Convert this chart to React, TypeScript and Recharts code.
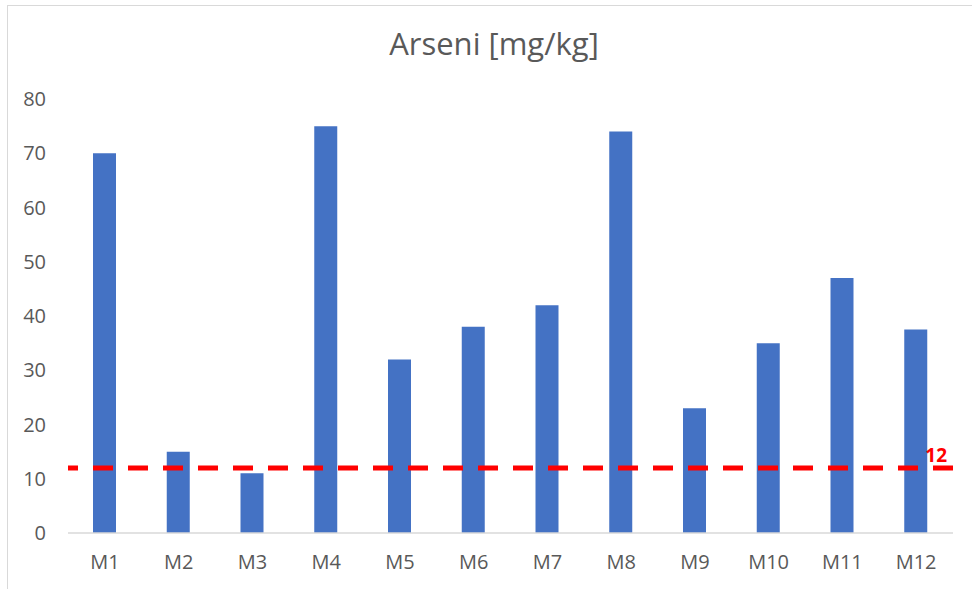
import { BarChart, Bar, XAxis, YAxis, ReferenceLine } from 'recharts';

const sites = ['M1', 'M2', 'M3', 'M4', 'M5', 'M6', 'M7', 'M8', 'M9', 'M10', 'M11', 'M12'];
const arsenic = [70, 15, 11, 75, 32, 38, 42, 74, 23, 35, 47, 37.5];
const yTicks = [0, 10, 20, 30, 40, 50, 60, 70, 80];
const limit = 12;

const font = '"Open Sans", "Noto Sans", sans-serif';
const textGray = '#595959';

export default function App() {
  const data = sites.map((site, i) => ({ site, value: arsenic[i] }));

  return (
    <div
      style={{
        position: 'absolute',
        left: 0,
        top: 0,
        width: 972,
        height: 589,
        background: '#fff',
        fontFamily: font,
      }}
    >
      {/* chart frame, cut off on the right and bottom */}
      <div
        style={{
          position: 'absolute',
          left: 7,
          top: 5,
          right: 0,
          bottom: 0,
          borderLeft: '1px solid #d9d9d9',
          borderTop: '1px solid #d9d9d9',
        }}
      />
      <div
        style={{
          position: 'absolute',
          top: 22,
          left: 0,
          width: 988,
          textAlign: 'center',
          fontSize: 31,
          color: textGray,
        }}
      >
        Arseni [mg/kg]
      </div>
      <BarChart
        width={972}
        height={589}
        data={data}
        margin={{ top: 99, right: 19, bottom: 26, left: 0 }}
        style={{ position: 'absolute', left: 0, top: 0 }}
      >
        <XAxis
          dataKey="site"
          tickLine={false}
          tickSize={0}
          tickMargin={22}
          axisLine={{ stroke: '#d9d9d9', strokeWidth: 1.5 }}
          tick={{ fill: textGray, fontSize: 20, fontFamily: font }}
        />
        <YAxis
          width={68}
          domain={[0, 80]}
          ticks={yTicks}
          interval={0}
          axisLine={false}
          tickLine={false}
          tickSize={0}
          tickMargin={22}
          tick={{ fill: textGray, fontSize: 20, fontFamily: font }}
        />
        <Bar dataKey="value" fill="#4472C4" barSize={23} isAnimationActive={false} />
        <ReferenceLine
          y={limit}
          stroke="#FF0000"
          strokeWidth={5}
          strokeDasharray="20 15"
          strokeDashoffset={10}
          label={{
            value: String(limit),
            position: 'insideBottomRight',
            offset: 6,
            fill: '#FF0000',
            fontWeight: 'bold',
            fontSize: 19,
            fontFamily: font,
          }}
        />
      </BarChart>
    </div>
  );
}
